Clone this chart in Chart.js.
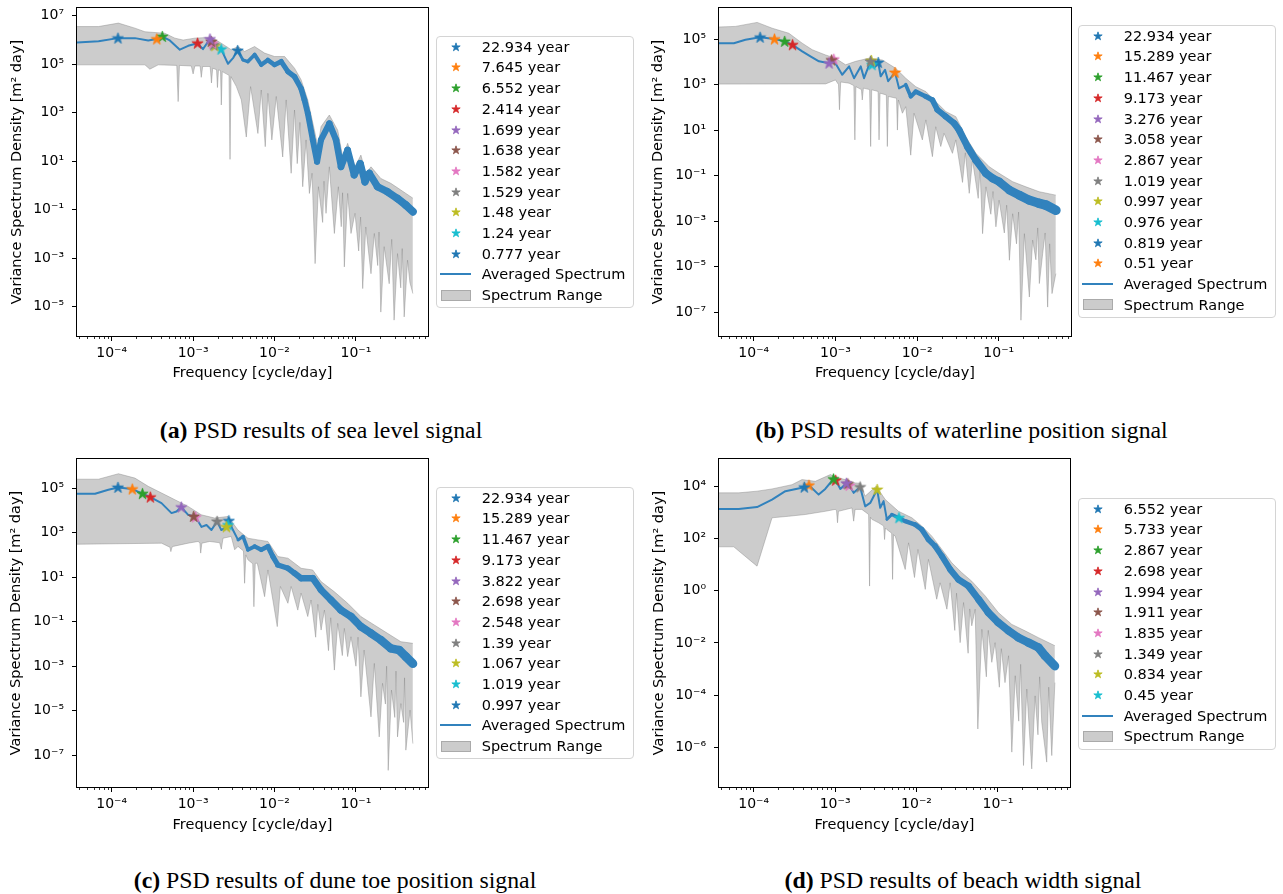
<!DOCTYPE html>
<html><head><meta charset="utf-8">
<script src="https://cdn.jsdelivr.net/npm/chart.js@4.4.1/dist/chart.umd.min.js"></script>
<style>
html,body{margin:0;padding:0;background:#fff;}
body{width:1283px;height:894px;position:relative;overflow:hidden;font-family:"DejaVu Sans",sans-serif;}
canvas.plot{position:absolute;}
.legend{position:absolute;border:1px solid #d4d4d4;border-radius:4px;background:rgba(255,255,255,0.8);box-sizing:border-box;width:198px;}
.lrow{position:absolute;height:20px;line-height:20px;font-size:14.5px;color:#000;white-space:nowrap;}
.lstar{position:absolute;}
.lline{position:absolute;height:2px;background:#3182bd;}
.lpatch{position:absolute;background:rgba(128,128,128,0.4);border:1px solid rgba(128,128,128,0.45);box-sizing:border-box;}
.cap{position:absolute;font-family:"Liberation Serif","Times New Roman",serif;font-size:23.8px;color:#000;white-space:nowrap;transform:translate(-50%,-50%);}
</style></head><body>
<script>
// ---------- shared axis data ----------
const xTicks = [1e-4, 1e-3, 1e-2, 1e-1];
const xTickLabels = ['10⁻⁴', '10⁻³', '10⁻²', '10⁻¹'];
const oddYTicks = [1e5, 1e3, 1e1, 1e-1, 1e-3, 1e-5, 1e-7];
const oddYTickLabels = ['10⁵', '10³', '10¹', '10⁻¹', '10⁻³', '10⁻⁵', '10⁻⁷'];

// ---------- (a) sea level ----------
const aYTicks = [1e7, 1e5, 1e3, 1e1, 1e-1, 1e-3, 1e-5];
const aYTickLabels = ['10⁷', '10⁵', '10³', '10¹', '10⁻¹', '10⁻³', '10⁻⁵'];
const aPeriods = ['22.934', '7.645', '6.552', '2.414', '1.699', '1.638', '1.582', '1.529', '1.48', '1.24', '0.777'];
const aPeaks = [1.2e6, 1.1e6, 1.4e6, 7.4e5, 1.1e6, 8.7e5, 7.4e5, 6.3e5, 5.8e5, 4.2e5, 3.7e5];
const aFreq = [3.75e-5, 6.9e-5, 1.19e-4, 1.93e-4, 2.81e-4, 3.58e-4, 4.18e-4, 5.18e-4, 6.87e-4, 8.7e-4, 1.134e-3, 1.32e-3, 1.611e-3, 1.671e-3, 1.731e-3, 1.79e-3, 1.85e-3, 2.21e-3, 2.68e-3, 3.09e-3, 3.52e-3, 4.1e-3, 4.71e-3, 5.69e-3, 6.87e-3, 8.29e-3, 1.0e-2, 1.21e-2, 1.46e-2, 1.76e-2, 2.12e-2, 2.33e-2, 2.56e-2, 2.95e-2, 3.33e-2, 3.72e-2, 4.71e-2, 5.69e-2, 6.55e-2, 7.9e-2, 9.5e-2, 0.113, 0.129, 0.146, 0.184, 0.244, 0.324, 0.41, 0.5];
const aAvg = [7.9e5, 8.9e5, 1.2e6, 1.2e6, 9.6e5, 1.1e6, 1.4e6, 9.6e5, 4.0e5, 5.8e5, 7.4e5, 4.2e5, 1.1e6, 8.7e5, 7.4e5, 6.3e5, 5.8e5, 4.2e5, 1.05e5, 1.8e5, 3.7e5, 1.5e5, 1.3e5, 2.5e5, 9.5e4, 1.5e5, 9.5e4, 1.3e5, 5.0e4, 3.1e4, 1.0e4, 3.4e3, 9.5e2, 76, 9.6, 76, 3.6e2, 76, 5.9, 29, 2.7, 8.1, 1.4, 3.2, 0.89, 0.55, 0.29, 0.155, 0.083];
const aHiFreq = [3.75e-5, 6.87e-5, 1.21e-4, 1.93e-4, 2.56e-4, 4.5e-4, 5.97e-4, 7.55e-4, 1.05e-3, 1.68e-3, 2.22e-3, 2.94e-3, 3.56e-3, 4.29e-3, 5.69e-3, 7.55e-3, 1.0e-2, 1.33e-2, 1.76e-2, 2.12e-2, 2.56e-2, 3.09e-2, 3.4e-2, 3.73e-2, 4.71e-2, 5.97e-2, 6.87e-2, 7.91e-2, 9.73e-2, 0.115, 0.132, 0.153, 0.202, 0.268, 0.356, 0.5];
const aHi = [3.6e6, 3.6e6, 5.0e6, 3.1e6, 2.2e6, 1.9e6, 1.2e6, 1.0e6, 1.2e6, 1.3e6, 7.4e5, 4.0e5, 5.4e5, 3.4e5, 5.4e5, 2.9e5, 2.1e5, 2.1e5, 6.9e4, 2.3e4, 3.4e3, 1.9e2, 40, 2.7e2, 8.1e2, 1.9e2, 15, 55, 5.9, 18, 3.2, 5.9, 1.95, 1.23, 0.65, 0.30];
const aLoFreq = [3.75e-5, 2.56e-4, 2.94e-4, 3.73e-4, 6.3e-4, 6.55e-4, 6.8e-4, 9.5e-4, 1.0e-3, 1.05e-3, 1.22e-3, 1.26e-3, 1.31e-3, 1.62e-3, 1.68e-3, 1.74e-3, 1.94e-3, 1.99e-3, 2.05e-3, 2.17e-3, 2.22e-3, 2.28e-3, 2.76e-3, 2.84e-3, 2.92e-3, 3.4e-3, 3.91e-3, 4.5e-3, 5.08e-3, 6.25e-3, 6.87e-3, 7.69e-3, 8.29e-3, 9.27e-3, 1.05e-2, 1.26e-2, 1.39e-2, 1.6e-2, 1.76e-2, 1.9e-2, 2.05e-2, 2.22e-2, 2.44e-2, 2.68e-2, 2.89e-2, 3.15e-2, 3.46e-2, 3.9e-2, 4.05e-2, 4.29e-2, 4.71e-2, 5.43e-2, 6.08e-2, 6.6e-2, 6.85e-2, 7.2e-2, 7.91e-2, 8.69e-2, 9.73e-2, 0.108, 0.114, 0.121, 0.132, 0.153, 0.168, 0.185, 0.192, 0.202, 0.222, 0.256, 0.275, 0.294, 0.324, 0.355, 0.37, 0.391, 0.43, 0.46, 0.5];
const aLo = [9.5e4, 9.5e4, 6.3e4, 9.5e4, 9.0e4, 2.9e3, 9.0e4, 8.5e4, 4.0e4, 8.5e4, 8.5e4, 2.9e4, 8.1e4, 8.1e4, 1.7e4, 6.9e4, 6.0e4, 1.1e4, 5.9e4, 5.5e4, 2.1e3, 5.0e4, 3.5e4, 12, 3.1e4, 1.2e4, 3.4e3, 1.0e2, 1.2e4, 1.4e2, 8.7e3, 40, 6.3e3, 76, 4.7e3, 15, 3.4e3, 3.2, 1.3e3, 8, 4.0e2, 0.89, 76, 0.47, 3.2, 6.0e-4, 0.89, 0.03, 1.5, 0.071, 5.9, 0.0105, 0.89, 0.02, 0.5, 4.4e-4, 0.47, 0.0105, 0.071, 2.0e-3, 0.05, 5.6e-5, 0.0195, 2.3e-4, 0.0105, 5.0e-4, 0.012, 6.0e-6, 3.0e-3, 8.9e-5, 6.0e-3, 2.8e-6, 1.55e-3, 6.0e-5, 2.5e-3, 3.8e-6, 8.3e-4, 1.0e-4, 3.5e-5];

// ---------- (b) waterline position ----------
const bPeriods = ['22.934', '15.289', '11.467', '9.173', '3.276', '3.058', '2.867', '1.019', '0.997', '0.976', '0.819', '0.51'];
const bPeaks = [1.2e5, 1.0e5, 7.9e4, 5.6e4, 8.7e3, 1.2e4, 1.3e4, 1.05e4, 1.15e4, 7.4e3, 9.3e3, 3.4e3];
const bFreq = [3.75e-5, 5.7e-5, 7.9e-5, 1.194e-4, 1.791e-4, 2.388e-4, 2.985e-4, 3.92e-4, 5.0e-4, 6.28e-4, 8.36e-4, 8.95e-4, 9.55e-4, 1.0e-3, 1.21e-3, 1.47e-3, 1.69e-3, 2.04e-3, 2.24e-3, 2.687e-3, 2.746e-3, 2.805e-3, 3.343e-3, 3.58e-3, 4.05e-3, 4.42e-3, 5.368e-3, 6.01e-3, 7.26e-3, 8.36e-3, 9.63e-3, 1.28e-2, 1.54e-2, 1.77e-2, 2.25e-2, 2.84e-2, 3.27e-2, 4.15e-2, 5.25e-2, 6.97e-2, 8.4e-2, 0.101, 0.135, 0.178, 0.237, 0.314, 0.379, 0.5];
const bAvg = [6.6e4, 6.6e4, 9.3e4, 1.2e5, 1.0e5, 7.9e4, 5.6e4, 2.9e4, 1.7e4, 1.05e4, 8.7e3, 1.2e4, 1.3e4, 8.7e3, 2.7e3, 6.3e3, 1.9e3, 6.3e3, 1.9e3, 1.05e4, 1.15e4, 7.4e3, 9.3e3, 2.3e3, 4.5e3, 1.4e3, 3.4e3, 6.9e2, 9.8e2, 3.0e2, 4.9e2, 3.0e2, 2.1e2, 78, 39, 20, 10, 1.85, 0.48, 0.125, 0.076, 0.054, 0.023, 0.0138, 8.3e-3, 6.0e-3, 5.0e-3, 3.0e-3];
const bHiFreq = [3.75e-5, 5.96e-5, 1.1e-4, 1.68e-4, 2.69e-4, 3.92e-4, 5.2e-4, 7.57e-4, 1.0e-3, 1.33e-3, 1.77e-3, 2.58e-3, 3.76e-3, 5.47e-3, 7.26e-3, 9.63e-3, 1.28e-2, 1.69e-2, 2.25e-2, 2.98e-2, 3.95e-2, 5.25e-2, 7.64e-2, 0.101, 0.148, 0.215, 0.314, 0.5];
const bHi = [3.4e5, 3.6e5, 5.4e5, 3.0e5, 1.8e5, 6.6e4, 3.4e4, 2.0e4, 1.45e4, 7.4e3, 1.05e4, 1.45e4, 1.2e4, 5.2e3, 1.9e3, 8.1e2, 4.9e2, 1.8e2, 65, 39, 5.1, 0.95, 0.245, 0.126, 0.054, 0.032, 0.0195, 0.0138];
const bLoFreq = [3.75e-5, 7.57e-4, 1.0e-3, 1.09e-3, 1.12e-3, 1.16e-3, 1.47e-3, 1.68e-3, 1.73e-3, 1.78e-3, 2.08e-3, 2.13e-3, 2.2e-3, 2.62e-3, 2.7e-3, 2.78e-3, 3.33e-3, 3.42e-3, 3.52e-3, 4.2e-3, 4.32e-3, 4.45e-3, 5.6e-3, 5.74e-3, 5.9e-3, 6.61e-3, 7.26e-3, 8.36e-3, 9.18e-3, 1.16e-2, 1.28e-2, 1.54e-2, 1.69e-2, 1.95e-2, 2.14e-2, 2.71e-2, 2.98e-2, 3.6e-2, 3.9e-2, 4.35e-2, 4.77e-2, 5.6e-2, 5.9e-2, 6.34e-2, 6.97e-2, 8.0e-2, 8.5e-2, 9.23e-2, 0.101, 0.117, 0.125, 0.135, 0.148, 0.165, 0.175, 0.187, 0.206, 0.237, 0.26, 0.285, 0.3, 0.314, 0.345, 0.37, 0.397, 0.42, 0.449, 0.5];
const bLo = [1.05e3, 1.07e3, 1.6e3, 1.0e3, 78, 1.3e3, 1.15e3, 9.0e2, 3.7, 8.1e2, 6.0e2, 2.1e2, 7.0e2, 6.0e2, 1.9, 5.9e2, 5.0e2, 3.7, 4.2e2, 3.5e2, 1.9, 3.0e2, 2.5e2, 10, 2.1e2, 55, 1.07e2, 0.79, 55, 3.7, 28, 0.68, 14, 1.9, 7.2, 0.95, 3.7, 0.05, 1.0, 0.0166, 0.48, 0.01, 0.2, 2.8e-4, 0.032, 2.0e-3, 0.02, 5.6e-4, 8.3e-3, 3.0e-4, 5.0e-3, 1.9e-5, 2.1e-3, 1.0e-4, 2.5e-3, 4.4e-8, 2.8e-4, 4.6e-7, 1.45e-4, 2.0e-5, 5.0e-4, 1.8e-6, 3.7e-5, 3.0e-4, 1.66e-7, 1.0e-4, 6.5e-7, 4.9e-6];

// ---------- (c) dune toe position ----------
const cPeriods = ['22.934', '15.289', '11.467', '9.173', '3.822', '2.698', '2.548', '1.39', '1.067', '1.019', '0.997'];
const cPeaks = [1.07e5, 9.0e4, 5.6e4, 3.9e4, 1.4e4, 5.3e3, 5.0e3, 3.2e3, 1.8e3, 2.2e3, 3.4e3];
const cFreq = [3.75e-5, 6.25e-5, 9.1e-5, 1.194e-4, 1.791e-4, 2.388e-4, 2.985e-4, 4.09e-4, 5.43e-4, 6.25e-4, 7.163e-4, 8.69e-4, 1.0147e-3, 1.0745e-3, 1.27e-3, 1.46e-3, 1.68e-3, 1.9697e-3, 2.22e-3, 2.566e-3, 2.687e-3, 2.746e-3, 3.09e-3, 3.56e-3, 4.1e-3, 4.71e-3, 5.69e-3, 6.87e-3, 8.29e-3, 9.55e-3, 1.1e-2, 1.46e-2, 1.76e-2, 2.12e-2, 2.95e-2, 3.72e-2, 4.94e-2, 6.55e-2, 8.7e-2, 0.115, 0.153, 0.202, 0.268, 0.34, 0.41, 0.5];
const cAvg = [5.6e4, 5.6e4, 8.4e4, 1.07e5, 9.0e4, 5.6e4, 3.9e4, 2.1e4, 7.5e3, 8.9e3, 1.4e4, 6.3e3, 5.3e3, 5.0e3, 1.8e3, 2.2e3, 1.3e3, 3.2e3, 1.3e3, 1.8e3, 2.2e3, 3.4e3, 1.3e3, 4.7e2, 6.7e2, 1.7e2, 2.4e2, 1.7e2, 2.4e2, 84, 35, 25, 15, 8.9, 8.9, 2.7, 0.94, 0.33, 0.17, 0.06, 0.03, 0.015, 6.3e-3, 5.3e-3, 2.7e-3, 1.3e-3];
const cHiFreq = [3.75e-5, 6.87e-5, 1.21e-4, 1.93e-4, 2.81e-4, 4.1e-4, 5.97e-4, 8.69e-4, 1.26e-3, 1.84e-3, 2.68e-3, 3.56e-3, 4.71e-3, 6.25e-3, 8.29e-3, 1.1e-2, 1.46e-2, 2.12e-2, 2.94e-2, 3.73e-2, 5.43e-2, 7.91e-2, 0.115, 0.168, 0.244, 0.356, 0.5];
const cHi = [2.5e5, 2.5e5, 4.4e5, 2.8e5, 1.2e5, 6.0e4, 3.0e4, 1.5e4, 6.3e3, 4.5e3, 5.3e3, 1.3e3, 5.6e2, 4.7e2, 4.0e2, 84, 71, 25, 21, 6.3, 2.2, 0.67, 0.17, 0.071, 0.03, 0.0126, 0.0106];
const cLoFreq = [3.75e-5, 4.1e-4, 4.94e-4, 5.2e-4, 5.33e-4, 5.5e-4, 5.69e-4, 8.69e-4, 1.15e-3, 1.21e-3, 1.24e-3, 1.28e-3, 1.6e-3, 2.12e-3, 2.22e-3, 2.33e-3, 2.94e-3, 3.24e-3, 3.56e-3, 4.15e-3, 4.29e-3, 4.45e-3, 4.71e-3, 5.4e-3, 5.58e-3, 5.8e-3, 6.14e-3, 7.55e-3, 8.29e-3, 1.08e-2, 1.18e-2, 1.46e-2, 1.6e-2, 1.93e-2, 2.12e-2, 2.56e-2, 2.81e-2, 3.2e-2, 3.4e-2, 3.73e-2, 4.1e-2, 4.6e-2, 4.9e-2, 5.43e-2, 5.97e-2, 6.8e-2, 7.2e-2, 7.91e-2, 8.69e-2, 0.1, 0.106, 0.115, 0.126, 0.153, 0.168, 0.193, 0.212, 0.23, 0.238, 0.249, 0.273, 0.3, 0.31, 0.324, 0.356, 0.385, 0.395, 0.41, 0.462, 0.5];
const cLo = [3.0e2, 3.35e2, 2.4e2, 2.2e2, 1.4e2, 2.2e2, 2.4e2, 3.35e2, 4.0e2, 3.5e2, 1.2e2, 3.35e2, 4.0e2, 3.5e2, 1.8e2, 5.6e2, 6.7e2, 1.7e2, 2.4e2, 1.5e2, 5.3, 1.0e2, 60, 40, 0.47, 42, 42, 1.33, 21, 0.06, 3.8, 0.67, 3.8, 0.33, 1.9, 0.17, 0.94, 0.02, 0.6, 0.042, 0.33, 5.0e-3, 0.15, 6.7e-4, 0.084, 3.0e-3, 0.05, 2.7e-3, 0.021, 1.0e-3, 0.02, 4.2e-5, 5.3e-3, 5.3e-6, 1.33e-3, 6.7e-7, 1.7e-4, 2.0e-5, 1.0e-3, 2.1e-8, 8.4e-5, 5.0e-6, 6.0e-4, 6.7e-7, 2.1e-5, 3.0e-6, 3.0e-4, 1.7e-7, 1.06e-5, 3.35e-7];

// ---------- (d) beach width ----------
const dYTicks = [1e4, 1e2, 1e0, 1e-2, 1e-4, 1e-6];
const dYTickLabels = ['10⁴', '10²', '10⁰', '10⁻²', '10⁻⁴', '10⁻⁶'];
const dPeriods = ['6.552', '5.733', '2.867', '2.698', '1.994', '1.911', '1.835', '1.349', '0.834', '0.45'];
const dPeaks = [9.2e3, 1.1e4, 1.9e4, 1.7e4, 1.3e4, 1.23e4, 1.07e4, 9.4e3, 7.5e3, 6.2e2];
const dFreq = [3.75e-5, 6.55e-5, 1.1e-4, 1.68e-4, 2.45e-4, 4.179e-4, 4.776e-4, 6.28e-4, 7.57e-4, 9.55e-4, 1.0147e-3, 1.16e-3, 1.373e-3, 1.4327e-3, 1.492e-3, 1.69e-3, 2.0296e-3, 2.34e-3, 2.7e-3, 3.283e-3, 3.58e-3, 3.94e-3, 4.32e-3, 4.98e-3, 6.084e-3, 7.26e-3, 9.6e-3, 1.16e-2, 1.4e-2, 1.69e-2, 2.05e-2, 2.59e-2, 3.27e-2, 4.35e-2, 5.77e-2, 7.64e-2, 0.101, 0.135, 0.178, 0.237, 0.314, 0.379, 0.5];
const dAvg = [1.36e3, 1.36e3, 1.6e3, 3.1e3, 6.5e3, 9.2e3, 1.1e4, 4.8e3, 7.9e3, 1.9e4, 1.7e4, 7.9e3, 1.3e4, 1.23e4, 1.07e4, 5.6e3, 9.4e3, 1.7e3, 2.3e3, 7.5e3, 1.5e3, 2.7e3, 5.4e2, 8.3e2, 6.2e2, 4.6e2, 3.4e2, 2.2e2, 91, 51, 21, 6.5, 2.7, 1.5, 0.47, 0.145, 0.06, 0.029, 0.016, 0.0102, 6.6e-3, 3.2e-3, 1.3e-3];
const dHiFreq = [3.75e-5, 6.55e-5, 1.1e-4, 1.68e-4, 2.95e-4, 3.92e-4, 5.71e-4, 8.73e-4, 1.1e-3, 1.33e-3, 1.77e-3, 2.03e-3, 2.34e-3, 3.2e-3, 4.13e-3, 6.01e-3, 8.77e-3, 1.16e-2, 1.54e-2, 2.05e-2, 2.71e-2, 3.6e-2, 4.77e-2, 6.97e-2, 0.101, 0.148, 0.215, 0.314, 0.5];
const dHi = [5.6e3, 5.6e3, 6.5e3, 7.9e3, 1.15e4, 1.8e4, 1.55e4, 2.8e4, 2.1e4, 1.8e4, 1.35e4, 1.3e4, 4.2e3, 1.0e4, 3.1e3, 1.1e3, 6.2e2, 3.0e2, 1.23e2, 38, 11.7, 4.9, 2.3, 0.63, 0.145, 0.051, 0.029, 0.0158, 7.8e-3];
const dLoFreq = [3.75e-5, 5.69e-5, 1.1e-4, 1.68e-4, 2.69e-4, 4.31e-4, 7.57e-4, 1.0e-3, 1.04e-3, 1.07e-3, 1.1e-3, 1.61e-3, 1.69e-3, 1.76e-3, 2.13e-3, 2.58e-3, 2.65e-3, 2.72e-3, 2.83e-3, 3.42e-3, 3.95e-3, 4.05e-3, 4.15e-3, 4.32e-3, 4.95e-3, 5.08e-3, 5.22e-3, 5.47e-3, 7.26e-3, 7.98e-3, 9.44e-3, 1.04e-2, 1.28e-2, 1.4e-2, 1.77e-2, 1.95e-2, 2.36e-2, 2.59e-2, 2.95e-2, 3.1e-2, 3.43e-2, 3.78e-2, 4.3e-2, 4.5e-2, 4.77e-2, 5.25e-2, 5.66e-2, 6.34e-2, 7.2e-2, 7.6e-2, 8.4e-2, 9.23e-2, 0.104, 0.11, 0.122, 0.135, 0.148, 0.163, 0.18, 0.19, 0.206, 0.226, 0.26, 0.286, 0.31, 0.325, 0.345, 0.397, 0.42, 0.458, 0.5];
const dLo = [48, 48, 8.7, 6.2e2, 7.1e2, 8.3e2, 1.1e3, 1.3e3, 1.2e3, 4.0e2, 1.1e3, 1.48e3, 4.6e2, 1.3e3, 1.3e3, 8.3e2, 1.5, 6.5e2, 5.4e2, 4.0e2, 3.0e2, 91, 2.5e2, 2.2e2, 1.6e2, 2.7, 1.4e2, 1.23e2, 6.5, 68, 3.2, 38, 1.12, 15.8, 0.47, 2.0, 0.195, 2.0, 0.03, 0.8, 0.0102, 0.35, 4.0e-3, 0.2, 0.045, 0.195, 5.0e-6, 0.033, 5.0e-4, 0.03, 1.8e-3, 0.0102, 2.0e-4, 6.0e-3, 3.0e-4, 3.2e-3, 6.5e-7, 5.5e-4, 1.0e-5, 1.5e-3, 2.0e-7, 1.7e-4, 1.48e-7, 9.3e-5, 3.0e-6, 5.0e-4, 9.1e-6, 2.7e-7, 2.0e-4, 4.8e-7, 3.0e-4];

// ---------- texts ----------
const yTitle = 'Variance Spectrum Density [m² day]';
const xTitle = 'Frequency [cycle/day]';
const avgLabel = 'Averaged Spectrum';
const rangeLabel = 'Spectrum Range';
const captionTags = ['(a)', '(b)', '(c)', '(d)'];
const captionTexts = ['PSD results of sea level signal', 'PSD results of waterline position signal', 'PSD results of dune toe position signal', 'PSD results of beach width signal'];

// ---------- styling ----------
const TAB10 = ['#1f77b4', '#ff7f0e', '#2ca02c', '#d62728', '#9467bd', '#8c564b', '#e377c2', '#7f7f7f', '#bcbd22', '#17becf'];
const BLUE = '#3182bd';
const GRAY = 'rgba(128,128,128,0.4)';
const X_MIN = 3.75e-5, X_MAX = 0.767;

function starImg(color, size) {
  const c = document.createElement('canvas');
  c.width = size; c.height = size;
  const g = c.getContext('2d');
  const R = size / 2 - 0.6, r = R * 0.381966, cx = size / 2, cy = size / 2 + R * 0.06;
  g.beginPath();
  for (let i = 0; i < 10; i++) {
    const a = -Math.PI / 2 + i * Math.PI / 5, rr = (i % 2) ? r : R;
    g.lineTo(cx + rr * Math.cos(a), cy + rr * Math.sin(a));
  }
  g.closePath();
  g.fillStyle = color; g.fill();
  g.strokeStyle = color; g.lineWidth = 0.8; g.stroke();
  return c;
}

function pts(fs, vs) { return fs.map((f, i) => ({x: f, y: vs[i]})); }

function bandWidth(f, band) {
  if (f < band.f0) return 2;
  const t = Math.min(1, Math.log(f / band.f0) / Math.log(0.5 / band.f0));
  return 2 + (band.wMax - 2) * Math.sqrt(t);
}

const frameTicks = {
  id: 'frameTicks',
  afterDraw(chart) {
    const ctx = chart.ctx, a = chart.chartArea, s = chart.scales.x;
    ctx.save();
    ctx.strokeStyle = '#000';
    ctx.lineWidth = 0.8;
    for (let k = -5; k <= 0; k++) {
      for (let m = 2; m <= 9; m++) {
        const v = m * Math.pow(10, k);
        if (v < s.min || v > s.max) continue;
        const px = Math.round(s.getPixelForValue(v)) + 0.5;
        ctx.beginPath(); ctx.moveTo(px, a.bottom); ctx.lineTo(px, a.bottom + 3); ctx.stroke();
      }
    }
    ctx.lineWidth = 1;
    ctx.strokeRect(a.left - 0.5, a.top - 0.5, a.right - a.left + 1, a.bottom - a.top + 1);
    ctx.restore();
  }
};

const panels = [
  {left: 0, top: 0, L: 77, T: 8, R: 428, B: 336, yMin: 6.2e-7, yMax: 2.1e7, yTicks: aYTicks, yLabels: aYTickLabels, yTitleX: 17, xTitleY: 373.5,
   f: aFreq, avg: aAvg, hiF: aHiFreq, hi: aHi, loF: aLoFreq, lo: aLo, periods: aPeriods, peaks: aPeaks,
   band: {f0: 3.2e-3, wMax: 8}, legend: {left: 436, top: 36}, cap: {x: 321, y: 430}},
  {left: 640, top: 0, L: 79, T: 8, R: 431, B: 336, yMin: 8.9e-9, yMax: 2.32e6, yTicks: oddYTicks, yLabels: oddYTickLabels, yTitleX: 18.3, xTitleY: 373.3,
   f: bFreq, avg: bAvg, hiF: bHiFreq, hi: bHi, loF: bLoFreq, lo: bLo, periods: bPeriods, peaks: bPeaks,
   band: {f0: 6e-3, wMax: 10}, legend: {left: 1078, top: 25}, cap: {x: 961.5, y: 430}},
  {left: 0, top: 450, L: 77, T: 9, R: 428, B: 337, yMin: 3.76e-9, yMax: 2.02e6, yTicks: oddYTicks, yLabels: oddYTickLabels, yTitleX: 16.7, xTitleY: 375,
   f: cFreq, avg: cAvg, hiF: cHiFreq, hi: cHi, loF: cLoFreq, lo: cLo, periods: cPeriods, peaks: cPeaks,
   band: {f0: 3.2e-3, wMax: 9}, legend: {left: 436, top: 487}, cap: {x: 335, y: 880}},
  {left: 640, top: 450, L: 79, T: 9, R: 430, B: 337, yMin: 3.43e-8, yMax: 1.11e5, yTicks: dYTicks, yLabels: dYTickLabels, yTitleX: 19, xTitleY: 375,
   f: dFreq, avg: dAvg, hiF: dHiFreq, hi: dHi, loF: dLoFreq, lo: dLo, periods: dPeriods, peaks: dPeaks,
   band: {f0: 4e-3, wMax: 9}, legend: {left: 1078, top: 498}, cap: {x: 963, y: 880}}
];

const CW = 440, CH = 395;
const TITLE_FONT = {family: 'DejaVu Sans', size: 14.5};
const TICK_FONT = {family: 'DejaVu Sans', size: 14};

panels.forEach((p, pi) => {
  const cv = document.createElement('canvas');
  cv.className = 'plot';
  cv.width = CW; cv.height = CH;
  cv.style.left = p.left + 'px'; cv.style.top = p.top + 'px';
  cv.style.width = CW + 'px'; cv.style.height = CH + 'px';
  document.body.appendChild(cv);

  const datasets = [];
  p.periods.forEach((per, i) => {
    datasets.push({
      label: per + ' year', data: [{x: 1 / (parseFloat(per) * 365.25), y: p.peaks[i]}],
      showLine: false, pointStyle: starImg(TAB10[i % 10], 13), pointRadius: 6, pointHoverRadius: 6
    });
  });
  datasets.push({
    label: avgLabel, data: pts(p.f, p.avg), borderColor: BLUE, borderWidth: 2, pointRadius: 0,
    borderJoinStyle: 'round', borderCapStyle: 'round', fill: false,
    segment: {borderWidth: ctx => bandWidth(p.f[ctx.p0DataIndex], p.band)}
  });
  datasets.push({label: rangeLabel, data: pts(p.hiF, p.hi), borderColor: GRAY, borderWidth: 1, pointRadius: 0, fill: false});
  datasets.push({label: rangeLabel + ' low', data: pts(p.loF, p.lo), borderColor: GRAY, borderWidth: 1, pointRadius: 0, fill: '-1', backgroundColor: GRAY});

  const lh = TITLE_FONT.size * 1.2;
  new Chart(cv, {
    type: 'line',
    data: {datasets},
    plugins: [frameTicks],
    options: {
      responsive: false, animation: false, devicePixelRatio: 1,
      layout: {padding: {left: 0, top: p.T, right: CW - p.R, bottom: 0}},
      elements: {line: {tension: 0}},
      plugins: {legend: {display: false}, tooltip: {enabled: false}},
      events: [],
      scales: {
        x: {
          type: 'logarithmic', min: X_MIN, max: X_MAX,
          afterBuildTicks: s => { s.ticks = xTicks.map(v => ({value: v})); },
          afterFit: s => { s.height = CH - p.B; s.paddingLeft = 0; s.paddingRight = 0; s.paddingTop = 0; s.paddingBottom = 0; },
          ticks: {callback: (v, i) => xTickLabels[i], autoSkip: false, maxRotation: 0, minRotation: 0, padding: 4, color: '#000', font: TICK_FONT},
          grid: {display: true, drawOnChartArea: false, drawTicks: true, tickLength: 5, color: '#000', lineWidth: 1},
          border: {display: false},
          title: {display: true, text: xTitle, color: '#000', font: TITLE_FONT, padding: {top: 0, bottom: CH - p.xTitleY - lh / 2}}
        },
        y: {
          type: 'logarithmic', min: p.yMin, max: p.yMax,
          afterBuildTicks: s => { s.ticks = p.yTicks.map(v => ({value: v})); },
          afterFit: s => { s.width = p.L; s.paddingLeft = 0; s.paddingRight = 0; s.paddingTop = 0; s.paddingBottom = 0; },
          ticks: {callback: (v, i) => p.yLabels[i], autoSkip: false, padding: 8, color: '#000', font: TICK_FONT},
          grid: {display: true, drawOnChartArea: false, drawTicks: true, tickLength: 5, color: '#000', lineWidth: 1},
          border: {display: false},
          title: {display: true, text: yTitle, color: '#000', font: TITLE_FONT, padding: {top: p.yTitleX - lh / 2, bottom: 0}}
        }
      }
    }
  });

  // legend (HTML)
  const n = p.periods.length + 2;
  const box = document.createElement('div');
  box.className = 'legend';
  box.style.left = p.legend.left + 'px';
  box.style.top = p.legend.top + 'px';
  box.style.height = (10.7 + (n - 1) * 20.7 + 13.3) + 'px';
  document.body.appendChild(box);
  const labels = p.periods.map(per => per + ' year').concat([avgLabel, rangeLabel]);
  labels.forEach((txt, i) => {
    const cy = 10.7 + i * 20.7 - 1;
    if (i < p.periods.length) {
      const s = starImg(TAB10[i % 10], 10);
      s.className = 'lstar';
      s.style.left = (19.7 - 5 - 1) + 'px';
      s.style.top = (cy - 5) + 'px';
      box.appendChild(s);
    } else if (i === p.periods.length) {
      const l = document.createElement('div');
      l.className = 'lline';
      l.style.left = (4 - 1) + 'px'; l.style.width = '31px'; l.style.top = (cy - 1) + 'px';
      box.appendChild(l);
    } else {
      const r = document.createElement('div');
      r.className = 'lpatch';
      r.style.left = (5 - 1) + 'px'; r.style.width = '30px'; r.style.height = '11px'; r.style.top = (cy - 5.5) + 'px';
      box.appendChild(r);
    }
    const t = document.createElement('div');
    t.className = 'lrow';
    t.style.left = (45.7 - 1) + 'px';
    t.style.top = (cy - 10) + 'px';
    t.textContent = txt;
    box.appendChild(t);
  });

  // caption
  const cap = document.createElement('div');
  cap.className = 'cap';
  cap.style.left = p.cap.x + 'px';
  cap.style.top = p.cap.y + 'px';
  const b = document.createElement('b');
  b.textContent = captionTags[pi];
  cap.appendChild(b);
  cap.appendChild(document.createTextNode(' ' + captionTexts[pi]));
  document.body.appendChild(cap);
});
</script>
</body></html>
